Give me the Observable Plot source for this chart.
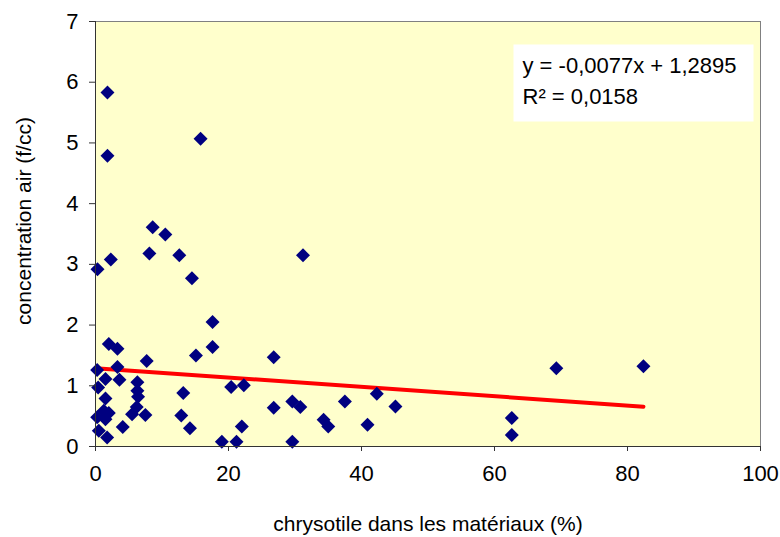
<!DOCTYPE html>
<html>
<head>
<meta charset="utf-8">
<script src="https://cdn.jsdelivr.net/npm/d3@7"></script>
<script src="https://cdn.jsdelivr.net/npm/@observablehq/plot@0.6"></script>
<style>
  html, body { margin: 0; padding: 0; background: white; }
</style>
</head>
<body>
<div id="chart"></div>
<script>
// chrysotile in materials (%)
const chrysotile = [
  1.8, 1.8, 15.8, 8.6, 10.5, 8.1, 12.6, 2.3, 0.3, 14.5,
  31.2, 17.6, 17.6, 15.1, 26.8, 69.3, 82.4, 62.6, 62.6,
  13.2, 20.4, 22.3, 12.9, 14.2, 26.8, 22.0, 19.0, 21.2,
  29.6, 30.8, 29.6, 34.3, 35.0, 37.5, 42.3, 45.1, 40.9,
  2.0, 3.3, 7.7, 0.25, 3.3, 1.5, 3.6, 0.4, 6.3, 6.3,
  6.4, 1.5, 6.2, 5.5, 1.25, 0.25, 1.5, 2.0, 7.5, 4.1, 0.5, 1.75
];
// air concentration (f/cc)
const concentration = [
  5.83, 4.79, 5.07, 3.61, 3.49, 3.18, 3.15, 3.08, 2.92, 2.77,
  3.15, 2.05, 1.64, 1.50, 1.47, 1.29, 1.32, 0.47, 0.19,
  0.88, 0.98, 1.01, 0.51, 0.30, 0.64, 0.33, 0.08, 0.08,
  0.74, 0.65, 0.08, 0.44, 0.33, 0.74, 0.87, 0.66, 0.36,
  1.69, 1.61, 1.41, 1.26, 1.31, 1.11, 1.10, 0.97, 1.06, 0.92,
  0.82, 0.79, 0.65, 0.53, 0.59, 0.48, 0.45, 0.55, 0.52, 0.32, 0.26, 0.15
];
const xTicks = [0, 20, 40, 60, 80, 100];
const yTicks = [0, 1, 2, 3, 4, 5, 6, 7];
const slope = -0.0077;
const intercept = 1.2895;
const equationLines = ["y = -0,0077x + 1,2895", "R² = 0,0158"];
const xLabel = "chrysotile dans les matériaux (%)";
const yLabel = "concentration air (f/cc)";

const points = chrysotile.map((x, i) => ({x, y: concentration[i]}));
const trend = [0, d3.max(chrysotile)].map(x => ({x, y: intercept + slope * x}));

const chart = Plot.plot({
  width: 780,
  height: 537,
  marginLeft: 95,
  marginRight: 20,
  marginTop: 21,
  marginBottom: 91,
  style: {fontFamily: "'Liberation Sans', Arial, sans-serif", fontSize: "21px", background: "white", color: "black"},
  x: {domain: [0, 100]},
  y: {domain: [0, 7]},
  marks: [
    Plot.frame({fill: "#FFFFCC", stroke: "#808080"}),
    Plot.frame({fill: "white", stroke: null, insetLeft: 418, insetRight: 7, insetTop: 23, insetBottom: 325}),
    Plot.text([equationLines[0]], {text: d => d, frameAnchor: "top-left", dx: 427, dy: 36, textAnchor: "start", lineAnchor: "top", fontSize: 22, fill: "black"}),
    Plot.text([equationLines[1]], {text: d => d, frameAnchor: "top-left", dx: 427, dy: 67, textAnchor: "start", lineAnchor: "top", fontSize: 22, fill: "black"}),
    Plot.line(trend, {x: "x", y: "y", stroke: "#FF0000", strokeWidth: 4, strokeLinecap: "round"}),
    Plot.dot(points, {x: "x", y: "y", symbol: "diamond2", r: 6.3, fill: "#000080"}),
    Plot.ruleX([0], {stroke: "#333"}),
    Plot.ruleY([0], {stroke: "#333"}),
    Plot.axisX({ticks: xTicks, tickFormat: d => String(d), tickSize: 5, tickPadding: 14, fontSize: 22, label: null, stroke: "#333", fill: "black"}),
    Plot.axisY({ticks: yTicks, tickFormat: d => String(d), tickSize: 6, tickPadding: 11, fontSize: 22, label: null, stroke: "#333", fill: "black"}),
    Plot.text([xLabel], {text: d => d, frameAnchor: "bottom", dy: 78, lineAnchor: "middle", fontSize: 21, fill: "black"}),
    Plot.text([yLabel], {text: d => d, frameAnchor: "left", dx: -71, dy: -13, rotate: -90, textAnchor: "middle", lineAnchor: "middle", fontSize: 21, fill: "black"})
  ]
});
document.getElementById("chart").appendChild(chart);
</script>
</body>
</html>
